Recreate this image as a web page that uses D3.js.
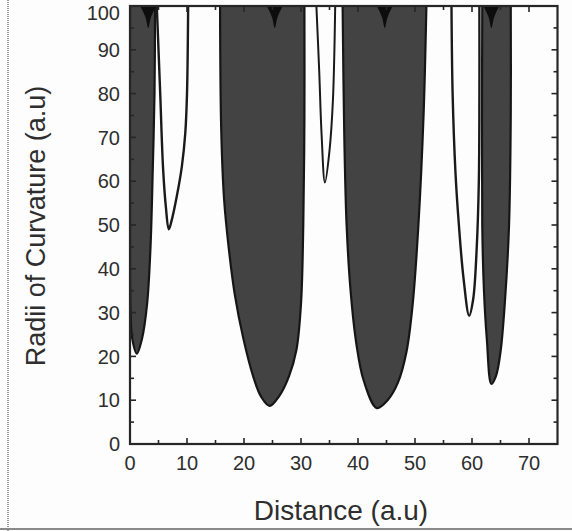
<!DOCTYPE html>
<html><head><meta charset="utf-8">
<script src="https://cdn.jsdelivr.net/npm/d3@7"></script>
<style>
html,body{margin:0;padding:0;background:#fdfdfd;}
svg{display:block;}
text{font-family:"Liberation Sans",Arial,Helvetica,sans-serif;fill:#2e2e2e;}
</style></head>
<body>
<svg id="chart" width="572" height="531"></svg>
<script>
// ---- data (distance, radius of curvature) ----
const xTicks = [0,10,20,30,40,50,60,70];
const yTicks = [0,10,20,30,40,50,60,70,80,90,100];
const xLabel = "Distance (a.u)";
const yLabel = "Radii of Curvature (a.u)";

// dark filled regions
const darkA = [[0,100],[0,45],[0.1,30],[0.4,24],[1.2,20.6],[2.1,24],[3.0,32],[3.6,45],[4.0,63],[4.3,80],[4.4,100]];
const darkB = [[15.8,100],[16.0,72],[16.5,56],[17.3,45],[18.4,34],[19.9,24],[21.6,15.5],[23.0,10.8],[24.5,8.7],[26.2,11.0],[27.9,15.5],[29.2,21.5],[30.0,32],[30.4,50],[30.6,75],[30.6,100]];
const darkC = [[37.3,100],[37.6,70],[38.0,50],[38.7,35],[39.7,23],[41.0,14.5],[43.3,8.2],[45.2,10.0],[47.0,14.0],[48.5,21.0],[49.6,32],[50.6,50],[51.5,75],[52.0,100]];
const darkD = [[61.8,100],[61.8,50],[62.1,35],[62.6,24],[63.4,13.7],[64.2,15.5],[65.0,21],[65.8,33],[66.5,50],[66.8,75],[66.8,100]];

// open (white) U-shaped curves
const openU1 = [[4.7,100],[5.3,80],[5.8,63],[6.3,54],[6.8,49],[7.3,51],[8.2,56.5],[9.1,63.4],[9.7,71],[10.0,80],[10.2,100]];
const openU2 = [[32.7,100],[33.2,85],[33.6,71],[34.2,59.7],[35.0,67],[35.6,78.5],[36.0,100]];
const openU3 = [[56.4,100],[56.6,80],[57.1,62],[57.7,50],[58.5,38],[59.5,29.3],[60.2,33],[60.8,44],[61.2,60],[61.3,80],[61.3,100]];

// small black cusps hanging from the top
const cuspX = [3.2, 25.4, 44.7, 63.4];
const cuspY = [95, 95, 95, 95];

// ---- drawing ----
const svg = d3.select("#chart");
const L = 130, R = 557.5, T = 6, B = 444;
const x = d3.scaleLinear().domain([0,75]).range([L,R]);
const y = d3.scaleLinear().domain([0,100]).range([B,T]);

// scan frame lines
svg.append("line").attr("x1",8).attr("x2",8).attr("y1",0).attr("y2",531)
  .attr("stroke","#9a9a9a").attr("stroke-width",2).attr("stroke-dasharray","1,1");
svg.append("line").attr("x1",0).attr("x2",572).attr("y1",529).attr("y2",529)
  .attr("stroke","#8a8a8a").attr("stroke-width",2);

svg.append("defs").append("clipPath").attr("id","clip")
  .append("rect").attr("x",L).attr("y",T).attr("width",R-L).attr("height",B-T);
const g = svg.append("g").attr("clip-path","url(#clip)");

const line = d3.line().x(d=>x(d[0])).y(d=>y(d[1])).curve(d3.curveCatmullRom.alpha(0.5));

[darkA,darkB,darkC,darkD].forEach(pts=>{
  g.append("path").attr("d", line(pts) + "Z")
    .attr("fill","#434343").attr("stroke","#161616").attr("stroke-width",2.2);
});
[openU1,openU2,openU3].forEach((pts,i)=>{
  g.append("path").attr("d", line(pts))
    .attr("fill","none").attr("stroke","#1a1a1a").attr("stroke-width",i===1?2:2.4);
});
cuspX.forEach((cx,i)=>{
  const pts = [[cx-1.4,100],[cx-0.5,97.5],[cx,cuspY[i]],[cx+0.5,97.5],[cx+1.4,100]];
  g.append("path").attr("d", line(pts)+"Z").attr("fill","#0d0d0d");
});

// frame
svg.append("rect").attr("x",L).attr("y",T).attr("width",R-L).attr("height",B-T)
  .attr("fill","none").attr("stroke","#262626").attr("stroke-width",2.2);

// inward ticks every 5 units
const xt5 = d3.range(5,75,5), yt5 = d3.range(5,100,5);
const tk = svg.append("g").attr("stroke","#262626").attr("stroke-width",1.6);
xt5.forEach(v=>{
  const len = v%10===0?6:4;
  tk.append("line").attr("x1",x(v)).attr("x2",x(v)).attr("y1",B).attr("y2",B-len);
  tk.append("line").attr("x1",x(v)).attr("x2",x(v)).attr("y1",T).attr("y2",T+len);
});
yt5.forEach(v=>{
  const len = v%10===0?6:4;
  tk.append("line").attr("x1",L).attr("x2",L+len).attr("y1",y(v)).attr("y2",y(v));
  tk.append("line").attr("x1",R).attr("x2",R-len).attr("y1",y(v)).attr("y2",y(v));
});

// tick labels
svg.append("g").selectAll("text").data(xTicks).join("text")
  .attr("x",d=>x(d)).attr("y",470).attr("text-anchor","middle")
  .attr("font-size",20).text(d=>d);
svg.append("g").selectAll("text").data(yTicks).join("text")
  .attr("x",120).attr("y",d=>Math.max(y(d),13)).attr("dy","0.36em").attr("text-anchor","end")
  .attr("font-size",20).text(d=>d);

// axis titles
svg.append("text").attr("x",341).attr("y",520).attr("text-anchor","middle")
  .attr("font-size",28).text(xLabel);
svg.append("text").attr("transform","translate(45,226) rotate(-90)")
  .attr("text-anchor","middle").attr("font-size",27).text(yLabel);
</script>
</body></html>
